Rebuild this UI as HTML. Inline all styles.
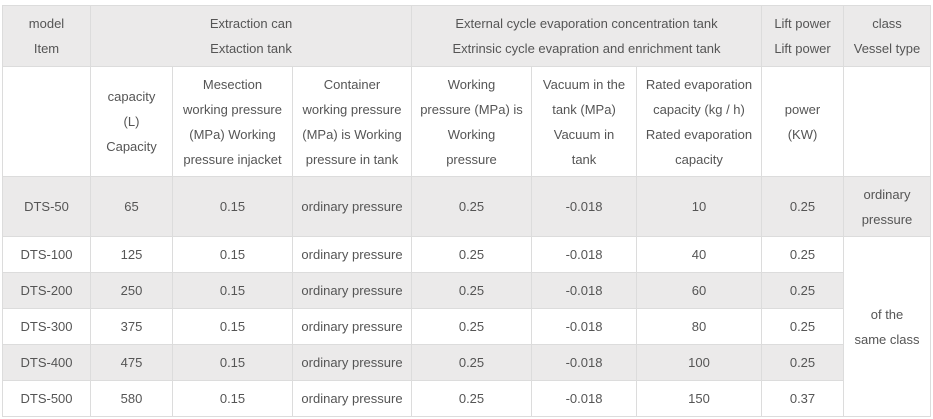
<!DOCTYPE html>
<html><head><meta charset="utf-8"><style>
body{margin:0;width:933px;height:419px;background:#fff;position:relative;overflow:hidden;font-family:"Liberation Sans",sans-serif;font-size:13px;color:#555}
.c{position:absolute;box-sizing:border-box;border:1px solid #dcdcdc;display:flex;align-items:center;justify-content:center;text-align:center;line-height:25px;margin:-1px 0 0 -1px}
.g{background:#ebeaea}
</style></head><body>
<div id="t"></div>
<script>
var X=[3,91,173,293,412,532,637,762,844,931];
var Y=[6,67,177,237,273,309,345,381,417];
var h='';
function cell(c0,c1,r0,r1,txt,g){h+='<div class="c'+(g?' g':'')+'" style="left:'+X[c0]+'px;top:'+Y[r0]+'px;width:'+(X[c1]-X[c0]+1)+'px;height:'+(Y[r1]-Y[r0]+1)+'px"><div>'+txt+'</div></div>';}
cell(0,1,0,1,'model<br>Item',1);
cell(1,4,0,1,'Extraction can<br>Extaction tank',1);
cell(4,7,0,1,'External cycle evaporation concentration tank<br>Extrinsic cycle evapration and enrichment tank',1);
cell(7,8,0,1,'Lift power<br>Lift power',1);
cell(8,9,0,1,'class<br>Vessel type',1);
var hd=['','capacity<br>(L)<br>Capacity','Mesection<br>working pressure<br>(MPa) Working<br>pressure injacket','Container<br>working pressure<br>(MPa) is Working<br>pressure in tank','Working<br>pressure (MPa) is<br>Working<br>pressure','Vacuum in the<br>tank (MPa)<br>Vacuum in<br>tank','Rated evaporation<br>capacity (kg / h)<br>Rated evaporation<br>capacity','power<br>(KW)',''];
for(var i=0;i<9;i++)cell(i,i+1,1,2,hd[i],0);
var d=[['DTS-50','65','10','0.25'],['DTS-100','125','40','0.25'],['DTS-200','250','60','0.25'],['DTS-300','375','80','0.25'],['DTS-400','475','100','0.25'],['DTS-500','580','150','0.37']];
for(var r=0;r<6;r++){var g=(r%2==0);var v=[d[r][0],d[r][1],'0.15','ordinary pressure','0.25','-0.018',d[r][2],d[r][3]];
for(var i=0;i<8;i++)cell(i,i+1,r+2,r+3,v[i],g);}
cell(8,9,2,3,'ordinary<br>pressure',1);
cell(8,9,3,8,'of the<br>same class',0);
document.getElementById('t').innerHTML=h;
</script>
</body></html>
